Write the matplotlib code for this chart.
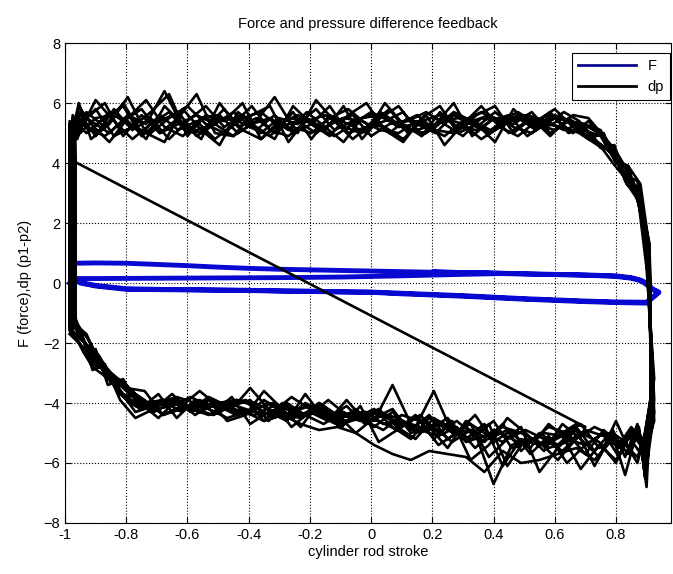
import matplotlib
matplotlib.use('Agg')
import matplotlib.pyplot as plt

plt.rcParams['font.family'] = ['Liberation Sans', 'DejaVu Sans']

# F (force) - blue loop
F_start_x = [-0.985, -0.975, -0.90, -0.70, -0.50, -0.30, -0.10, 0.10, 0.30, 0.45]
F_start_y = [0.00, 0.15, 0.15, 0.16, 0.17, 0.18, 0.20, 0.24, 0.29, 0.32]
F_top_x = [-0.975, -0.90, -0.80, -0.70, -0.60, -0.50, -0.40, -0.30, -0.20, -0.10, 0.00,
           0.10, 0.20, 0.30, 0.40, 0.50, 0.60, 0.70, 0.80, 0.85, 0.88, 0.90, 0.92, 0.94]
F_top_y = [0.70, 0.70, 0.68, 0.63, 0.60, 0.55, 0.50, 0.48, 0.46, 0.43, 0.41,
           0.39, 0.37, 0.35, 0.33, 0.31, 0.29, 0.27, 0.24, 0.18, 0.10, 0.00, -0.20, -0.30]
F_bot_x = [0.90, 0.80, 0.70, 0.60, 0.50, 0.40, 0.30, 0.20, 0.10, 0.00, -0.10, -0.20,
           -0.30, -0.40, -0.50, -0.60, -0.70, -0.80, -0.90, -0.95, -0.98]
F_bot_y = [-0.67, -0.65, -0.62, -0.58, -0.54, -0.49, -0.44, -0.40, -0.36, -0.31, -0.30, -0.28,
           -0.27, -0.25, -0.24, -0.23, -0.22, -0.21, -0.10, 0.00, 0.20]
F_top2_y = [0.66, 0.67, 0.66, 0.62, 0.58, 0.53, 0.49, 0.46, 0.44, 0.42, 0.40,
            0.38, 0.36, 0.34, 0.32, 0.30, 0.28, 0.26, 0.22, 0.16, 0.08, -0.05, -0.22, -0.32]
F_bot2_y = [-0.64, -0.63, -0.60, -0.56, -0.52, -0.47, -0.42, -0.38, -0.34, -0.30, -0.29, -0.27,
            -0.26, -0.24, -0.23, -0.22, -0.21, -0.19, -0.08, 0.02, 0.25]

# dp (p1-p2) - black noisy loops
diag_x = [-0.96, 0.70]
diag_y = [4.0, -4.8]

top_x_a = [-0.985, -0.95, -0.90, -0.84, -0.78, -0.72, -0.66, -0.60, -0.54, -0.48, -0.42, -0.36,
           -0.30, -0.24, -0.18, -0.12, -0.06, 0.00, 0.06, 0.12, 0.18, 0.24, 0.30, 0.36, 0.42,
           0.48, 0.54, 0.60, 0.66, 0.71, 0.76, 0.80, 0.84, 0.88, 0.905]
top_x_b = [-0.975, -0.96, -0.93, -0.87, -0.81, -0.75, -0.69, -0.63, -0.57, -0.51, -0.45, -0.39,
           -0.33, -0.27, -0.21, -0.15, -0.09, -0.03, 0.03, 0.09, 0.15, 0.21, 0.27, 0.33, 0.39,
           0.45, 0.51, 0.57, 0.63, 0.68, 0.74, 0.79, 0.83, 0.87, 0.91]
top_x_c = [-0.968, -0.955, -0.915, -0.855, -0.795, -0.735, -0.675, -0.615, -0.555, -0.495,
           -0.435, -0.375, -0.315, -0.255, -0.195, -0.135, -0.075, -0.015, 0.045, 0.105, 0.165,
           0.225, 0.285, 0.345, 0.405, 0.465, 0.525, 0.585, 0.645, 0.695, 0.75, 0.795, 0.835,
           0.875, 0.90]
bot_x_a = [0.915, 0.90, 0.88, 0.85, 0.81, 0.76, 0.70, 0.64, 0.58, 0.52, 0.46, 0.40, 0.34, 0.28,
           0.22, 0.16, 0.10, 0.04, -0.02, -0.08, -0.14, -0.20, -0.26, -0.32, -0.38, -0.44,
           -0.50, -0.56, -0.62, -0.68, -0.74, -0.80, -0.85, -0.89, -0.93, -0.965]
bot_x_b = [0.92, 0.89, 0.87, 0.83, 0.79, 0.73, 0.67, 0.61, 0.55, 0.49, 0.43, 0.37, 0.31, 0.25,
           0.19, 0.13, 0.07, 0.01, -0.05, -0.11, -0.17, -0.23, -0.29, -0.35, -0.41, -0.47,
           -0.53, -0.59, -0.65, -0.71, -0.77, -0.82, -0.87, -0.91, -0.94, -0.975]
bot_x_c = [0.925, 0.895, 0.875, 0.84, 0.80, 0.745, 0.685, 0.625, 0.565, 0.505, 0.445, 0.385,
           0.325, 0.265, 0.205, 0.145, 0.085, 0.025, -0.035, -0.095, -0.155, -0.215, -0.275,
           -0.335, -0.395, -0.455, -0.515, -0.575, -0.635, -0.695, -0.755, -0.81, -0.86, -0.90,
           -0.935, -0.985]

top_y = [
    [5.2, 5.6, 4.9, 5.8, 5.1, 5.5, 4.8, 5.4, 5.9, 5.2, 5.6, 5.0, 5.5, 5.3, 5.8, 5.1, 5.4, 5.6,
     5.0, 5.5, 5.2, 4.9, 5.4, 5.7, 5.3, 5.5, 5.1, 5.6, 5.3, 5.2, 4.9, 4.3, 3.7, 2.9, 0.8],
    [5.5, 4.8, 5.7, 5.2, 6.0, 5.0, 5.6, 5.1, 5.4, 4.8, 5.3, 5.9, 5.1, 4.9, 5.4, 5.6, 5.2, 5.0,
     5.7, 5.3, 5.6, 5.1, 5.0, 5.4, 5.6, 5.0, 5.4, 5.2, 5.5, 5.1, 4.7, 4.0, 3.5, 3.1, 1.2],
    [4.9, 5.9, 5.3, 4.7, 5.5, 6.1, 5.2, 4.9, 5.5, 5.6, 5.0, 5.4, 6.2, 5.2, 5.0, 5.5, 5.8, 5.3,
     5.2, 4.8, 5.4, 5.6, 5.2, 5.1, 5.5, 5.3, 5.7, 5.0, 5.4, 5.3, 5.0, 4.4, 3.8, 2.6, 0.5],
    [5.3, 5.1, 6.1, 5.4, 4.8, 5.3, 5.7, 5.0, 5.2, 5.8, 5.1, 4.8, 5.3, 5.6, 5.2, 4.9, 5.3, 5.7,
     5.4, 5.1, 5.0, 5.5, 5.3, 4.8, 5.2, 5.6, 5.2, 5.5, 5.0, 5.4, 4.8, 4.1, 3.9, 3.3, 1.5],
    [5.6, 5.3, 5.0, 5.5, 5.9, 4.9, 5.4, 5.7, 4.9, 5.3, 5.7, 5.2, 4.9, 5.5, 5.4, 5.2, 4.7, 5.5,
     5.6, 5.2, 5.3, 5.0, 5.6, 5.3, 5.0, 5.4, 5.5, 5.3, 5.2, 5.0, 4.6, 4.5, 3.4, 2.8, 0.9],
    [5.0, 5.7, 5.4, 5.0, 5.6, 5.3, 6.4, 5.2, 5.0, 5.5, 5.4, 5.1, 5.6, 5.0, 5.3, 5.9, 5.0, 5.2,
     5.4, 5.7, 4.9, 5.4, 5.5, 5.2, 5.7, 5.2, 5.0, 5.6, 5.4, 5.3, 5.1, 4.2, 3.6, 3.0, 1.1],
    [5.4, 5.0, 5.5, 5.6, 5.2, 5.0, 5.5, 5.9, 5.3, 5.0, 5.5, 5.7, 5.2, 5.4, 5.0, 5.4, 5.6, 4.9,
     5.3, 5.4, 5.7, 5.3, 4.9, 5.5, 5.4, 5.7, 5.3, 5.1, 5.6, 5.5, 4.9, 4.4, 3.7, 2.7, 0.6],
    [5.1, 5.4, 5.2, 4.9, 5.4, 5.8, 5.0, 5.3, 5.6, 5.3, 4.9, 5.3, 5.5, 5.1, 5.7, 5.2, 5.5, 5.4,
     5.1, 5.0, 5.4, 5.2, 5.7, 5.4, 5.1, 5.5, 5.6, 5.4, 5.1, 5.3, 4.7, 4.3, 3.5, 3.2, 1.3],
    [5.4, 6.0, 4.8, 5.3, 6.2, 5.0, 4.7, 5.8, 5.1, 4.6, 5.7, 5.2, 4.8, 5.9, 5.3, 4.9, 5.6, 6.0,
     5.1, 4.7, 5.5, 5.9, 5.0, 5.3, 4.7, 5.8, 5.2, 5.7, 5.0, 5.2, 4.5, 4.6, 3.3, 3.0, 1.4],
    [4.8, 5.3, 5.8, 4.9, 5.2, 5.7, 6.3, 4.9, 5.6, 5.4, 6.0, 4.8, 5.4, 5.0, 6.1, 5.4, 4.8, 5.3,
     5.8, 5.0, 5.6, 4.6, 5.3, 5.9, 5.2, 4.9, 5.4, 5.8, 5.2, 4.8, 5.0, 4.0, 3.9, 2.5, 0.7],
    [5.5, 4.9, 5.5, 6.0, 4.9, 5.6, 5.0, 5.5, 6.3, 5.0, 4.9, 5.6, 5.9, 4.7, 5.5, 5.1, 5.9, 4.8,
     5.5, 5.9, 5.1, 5.3, 6.0, 4.9, 5.4, 5.6, 4.9, 5.3, 5.7, 5.4, 4.7, 4.3, 3.6, 3.4, 1.0],
    [5.0, 5.5, 5.1, 5.7, 5.4, 4.8, 5.9, 5.3, 4.8, 6.0, 5.2, 5.5, 5.0, 5.7, 4.8, 5.6, 5.3, 5.0,
     6.0, 5.3, 4.9, 5.7, 5.1, 5.6, 5.9, 5.0, 5.5, 4.9, 5.5, 5.1, 4.9, 4.1, 3.8, 2.9, 0.9],
]
bot_y = [
    [-3.6, -5.5, -4.7, -5.8, -4.9, -5.6, -4.8, -5.4, -5.0, -5.6, -4.7, -5.3, -4.8, -5.2, -4.4,
     -4.9, -4.3, -4.8, -4.2, -4.6, -4.0, -4.5, -4.3, -3.9, -4.4, -4.1, -3.8, -4.2, -4.0, -4.3,
     -3.7, -3.3, -2.8, -2.6, -1.9, -1.4],
    [-4.5, -6.1, -5.2, -4.8, -5.4, -4.9, -5.7, -5.0, -4.8, -5.3, -5.5, -4.6, -5.1, -4.6, -5.0,
     -4.4, -4.8, -4.4, -4.7, -4.1, -4.5, -4.2, -3.8, -4.3, -4.0, -3.9, -4.2, -3.9, -4.3, -3.9,
     -4.1, -3.6, -3.1, -2.4, -2.1, -1.2],
    [-3.2, -5.0, -5.6, -5.1, -6.0, -5.3, -5.0, -5.6, -5.2, -4.9, -5.2, -5.8, -4.7, -5.0, -3.6,
     -4.8, -4.5, -4.3, -4.6, -4.4, -4.3, -4.0, -4.5, -4.2, -3.5, -4.2, -4.0, -4.4, -3.9, -4.5,
     -4.0, -3.4, -3.0, -2.3, -2.0, -1.6],
    [-4.2, -5.4, -4.9, -6.4, -5.1, -4.8, -5.2, -5.9, -5.3, -5.0, -4.8, -5.1, -5.3, -4.5, -4.9,
     -4.7, -3.4, -4.6, -4.4, -4.5, -4.2, -4.5, -4.1, -4.4, -4.2, -4.0, -4.1, -3.8, -4.1, -4.2,
     -3.8, -3.7, -2.9, -2.7, -2.2, -1.7],
    [-3.8, -6.8, -5.3, -5.0, -5.5, -5.1, -4.9, -5.3, -5.5, -5.2, -5.4, -6.7, -5.0, -4.9, -4.6,
     -5.0, -4.7, -4.4, -4.3, -4.6, -4.4, -4.1, -4.3, -4.5, -4.1, -3.9, -4.0, -4.1, -4.2, -4.4,
     -3.9, -3.5, -3.2, -2.5, -1.8, -1.3],
    [-4.6, -5.6, -5.0, -5.2, -5.9, -5.4, -6.2, -5.1, -5.0, -5.4, -4.9, -5.2, -4.9, -5.3, -4.8,
     -4.5, -4.9, -4.6, -4.5, -4.3, -4.7, -4.4, -4.2, -4.0, -4.3, -4.2, -3.9, -4.0, -3.8, -4.0,
     -4.2, -3.8, -2.9, -2.6, -2.0, -1.5],
    [-3.4, -5.3, -5.8, -5.4, -5.2, -5.9, -5.5, -5.7, -5.9, -6.0, -5.6, -6.3, -5.8, -5.7, -5.6,
     -5.9, -5.7, -5.4, -5.0, -4.8, -4.9, -4.7, -4.4, -4.6, -4.3, -4.5, -4.2, -4.1, -4.0, -4.1,
     -4.3, -3.6, -3.1, -2.8, -2.3, -1.6],
    [-4.1, -5.1, -5.4, -5.0, -5.3, -5.0, -5.4, -5.2, -4.7, -5.5, -5.2, -4.9, -5.5, -4.8, -5.1,
     -4.9, -4.6, -4.7, -4.3, -4.4, -3.9, -4.4, -4.5, -4.1, -4.4, -4.3, -4.0, -4.3, -4.1, -3.9,
     -4.0, -3.4, -3.0, -2.5, -2.1, -1.5],
    [-3.9, -5.9, -5.1, -5.5, -4.6, -5.8, -5.2, -4.7, -5.6, -5.0, -4.5, -5.4, -5.9, -4.6, -5.2,
     -4.4, -4.9, -5.3, -4.1, -4.8, -4.5, -3.7, -4.6, -4.3, -4.7, -3.8, -4.3, -3.9, -4.5, -3.7,
     -4.2, -3.2, -3.4, -2.2, -2.3, -1.5],
    [-4.8, -5.2, -6.0, -5.3, -5.0, -6.1, -4.9, -5.5, -6.3, -4.8, -5.3, -5.0, -4.6, -5.5, -4.8,
     -5.0, -4.2, -4.5, -5.0, -4.4, -4.0, -4.8, -4.2, -3.6, -4.4, -4.6, -3.9, -4.3, -3.7, -4.2,
     -4.5, -3.9, -2.7, -2.9, -1.9, -1.2],
    [-3.5, -5.6, -5.3, -4.9, -5.8, -5.0, -5.4, -6.0, -5.1, -5.7, -4.9, -5.3, -4.4, -5.0, -5.4,
     -4.6, -4.4, -4.9, -4.6, -3.9, -4.6, -4.3, -4.8, -4.0, -4.2, -4.4, -4.1, -3.6, -4.1, -4.4,
     -3.6, -3.5, -3.3, -2.6, -1.7, -1.4],
    [-4.3, -6.5, -4.8, -5.7, -5.2, -5.5, -4.7, -5.1, -5.4, -5.2, -6.1, -4.7, -5.2, -4.9, -4.5,
     -5.2, -4.8, -4.2, -4.5, -4.7, -4.1, -4.4, -4.0, -4.6, -3.9, -4.1, -4.4, -4.2, -3.9, -4.0,
     -4.1, -3.7, -3.0, -2.4, -2.2, -1.7],
]

# build paths
F_x = F_start_x + F_top_x[12:] + F_bot_x + F_top_x + F_bot_x
F_y = F_start_y + F_top_y[12:] + F_bot_y + F_top2_y + F_bot2_y

top_grids = [top_x_a, top_x_b, top_x_c]
bot_grids = [bot_x_b, bot_x_a, bot_x_c]

dp_x = list(diag_x)
dp_y = list(diag_y)
for i in range(len(top_y)):
    tx = top_grids[i % 3]
    bx = bot_grids[i % 3]
    if i == 0:
        keep = [k for k in range(len(bx)) if bx[k] < 0.70]
        dp_x += [bx[k] for k in keep]
        dp_y += [bot_y[-1][k] for k in keep]
    dp_x += tx
    dp_y += top_y[i]
    dp_x += bx
    dp_y += bot_y[i]

fig = plt.figure(figsize=(6.73, 5.74), dpi=100)
ax = fig.add_axes([0.0966, 0.0889, 0.9005, 0.836])

ax.plot(F_x, F_y, color='#0808d0', lw=3.5, label='F')
ax.plot(dp_x, dp_y, color='black', lw=1.9, label='dp')

ax.set_xlim(-1, 0.98)
ax.set_ylim(-8, 8)
ax.set_xticks([-1, -0.8, -0.6, -0.4, -0.2, 0, 0.2, 0.4, 0.6, 0.8])
ax.set_xticklabels(['-1', '-0.8', '-0.6', '-0.4', '-0.2', '0', '0.2', '0.4', '0.6', '0.8'])
ax.set_yticks([-8, -6, -4, -2, 0, 2, 4, 6, 8])
ax.tick_params(direction='in', top=True, right=True, labelsize=10.5, length=4)
ax.grid(True, linestyle=':', color='black', linewidth=0.8)

ax.set_title('Force and pressure difference feedback', fontsize=10.5, pad=11)
ax.set_xlabel('cylinder rod stroke', fontsize=10.5, labelpad=2)
ax.set_ylabel('F (force),dp (p1-p2)', fontsize=10.5, labelpad=8)

leg_handles = [plt.Line2D([], [], color='#0a0a8c', lw=2), plt.Line2D([], [], color='black', lw=2)]
leg = ax.legend(leg_handles, ['F', 'dp'], loc='upper right', bbox_to_anchor=(0.998, 0.979),
                borderaxespad=0, fancybox=False, framealpha=1, edgecolor='black',
                handlelength=4, fontsize=10.5)
leg.get_frame().set_linewidth(0.8)

plt.savefig('out.png', dpi=100)
